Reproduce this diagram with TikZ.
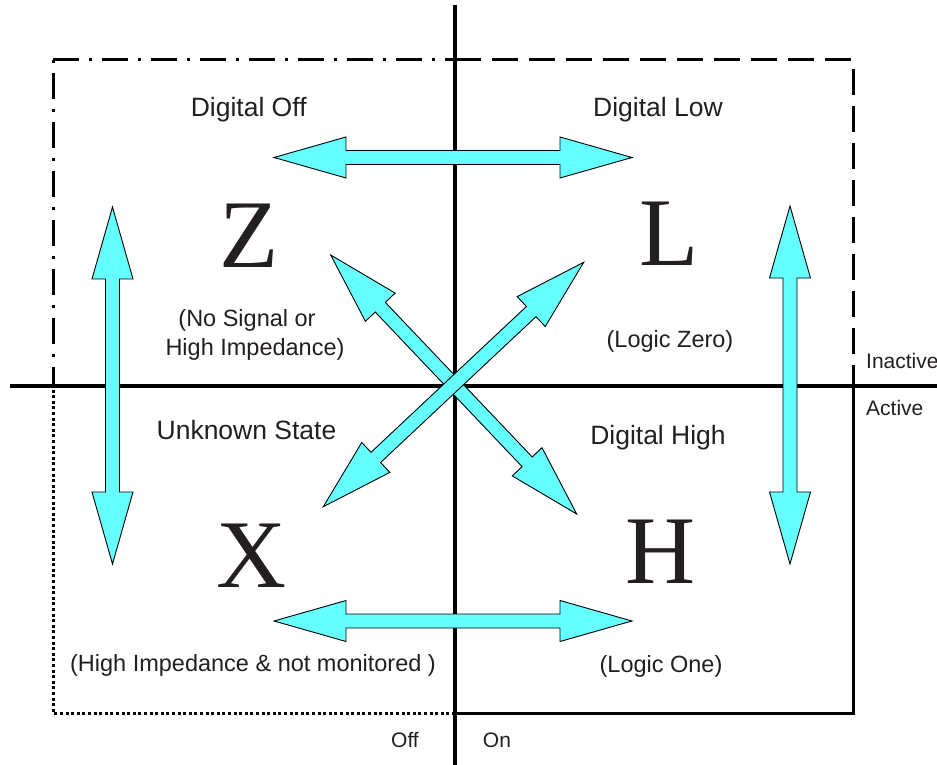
\documentclass[tikz,border=0pt]{standalone}
\usepackage{fontspec}
\setmainfont{Liberation Sans}
\newfontfamily\bigserif{Liberation Serif}
\usetikzlibrary{calc}
\definecolor{arrcyan}{HTML}{66FFFF}
\definecolor{txt}{HTML}{231F20}
\newcommand{\blockarrow}[3]{%
  \coordinate (#3ha) at ($(#1)!72pt!(#2)$);
  \coordinate (#3hb) at ($(#2)!72pt!(#1)$);
  \draw[arr] (#1) -- ($(#3ha)!20.5pt!90:(#2)$) -- ($(#3ha)!7pt!90:(#2)$)
    -- ($(#3hb)!7pt!-90:(#1)$) -- ($(#3hb)!20.5pt!-90:(#1)$) -- (#2)
    -- ($(#3hb)!20.5pt!90:(#1)$) -- ($(#3hb)!7pt!90:(#1)$)
    -- ($(#3ha)!7pt!-90:(#2)$) -- ($(#3ha)!20.5pt!-90:(#2)$) -- cycle;}
\begin{document}
\begin{tikzpicture}[x=1pt,y=-1pt,
  arr/.style={fill=arrcyan,draw=black,line width=0.9pt,line join=miter},
  axisline/.style={line width=3.3pt,black},
  boxline/.style={line width=3pt,black},
  head/.style={font=\fontsize{26.5}{30}\selectfont,text=txt,inner sep=0pt,anchor=base},
  note/.style={font=\fontsize{23.5}{28}\selectfont,text=txt,inner sep=0pt,anchor=base},
  small/.style={font=\fontsize{21}{24}\selectfont,text=txt,inner sep=0pt},
  big/.style={font=\bigserif\fontsize{97}{100}\selectfont,text=txt,inner sep=0pt,anchor=base}]
\useasboundingbox (0,0) rectangle (937,765);

% box corners
\coordinate (tl) at (53,60);
\coordinate (tm) at (455,60);
\coordinate (tr) at (853,60);
\coordinate (ml) at (53,386);
\coordinate (mr) at (853,386);
\coordinate (bl) at (53,713);
\coordinate (bm) at (455,713);
\coordinate (br) at (853,713);

% box outline
\draw[boxline,dash pattern=on 26pt off 10pt on 3pt off 10pt] (tl) -- (tm);
\draw[boxline,dash pattern=on 3pt off 10pt on 26pt off 10pt] (tl) -- (ml);
\draw[boxline,dash pattern=on 26pt off 11pt] (tm) -- (tr) -- (mr);
\draw[boxline] (mr) -- (br) -- (bm);
\draw[boxline,dash pattern=on 3pt off 2.6pt] (bm) -- (bl) -- (ml);

% axes
\coordinate (vtop) at (455,5);
\coordinate (vbot) at (455,765);
\coordinate (hleft) at (10,386);
\coordinate (hright) at (937,386);
\draw[axisline] (vtop) -- (vbot);
\draw[axisline] (hleft) -- (hright);

% arrow end points
\coordinate (topL) at (274,157.5);
\coordinate (topR) at (632,157.5);
\coordinate (botL) at (274,621);
\coordinate (botR) at (632,621);
\coordinate (leftT) at (112.5,207);
\coordinate (leftB) at (112.5,564);
\coordinate (rightT) at (790,206);
\coordinate (rightB) at (790,564);
\coordinate (d1a) at (330.7,255);
\coordinate (d1b) at (576.7,514);
\coordinate (d2a) at (583.7,262.3);
\coordinate (d2b) at (323.3,506.7);

\blockarrow{topL}{topR}{at}
\blockarrow{botL}{botR}{ab}
\blockarrow{leftT}{leftB}{al}
\blockarrow{rightT}{rightB}{ar}
\blockarrow{d1a}{d1b}{ad}
\blockarrow{d2a}{d2b}{ae}

% labels
\node[head] (doff) at (248.7,117) {Digital Off};
\node[head] (dlow) at (658,117) {Digital Low};
\node[head] (unk) at (246.5,439) {Unknown State};
\node[head] (dhigh) at (658,444) {Digital High};

\node[big] (Z) at (249,267) {Z};
\node[big] (L) at (669,265) {L};
\node[big] (X) at (252,587) {X};
\node[big] (H) at (661,583) {H};

\node[note] (zn1) at (247,326) {(No Signal or};
\node[note] (zn2) at (255,355) {High Impedance)};
\node[note] (ln) at (670,347) {(Logic Zero)};
\node[note] (xn) at (253,671) {(High Impedance \& not monitored )};
\node[note] (hn) at (661,672) {(Logic One)};

\node[small,anchor=base west] (inact) at (866,368) {Inactive};
\node[small,anchor=base west] (act) at (866,415) {Active};
\node[small,anchor=base] (off) at (405,747) {Off};
\node[small,anchor=base] (on) at (497,747) {On};
\end{tikzpicture}
\end{document}
